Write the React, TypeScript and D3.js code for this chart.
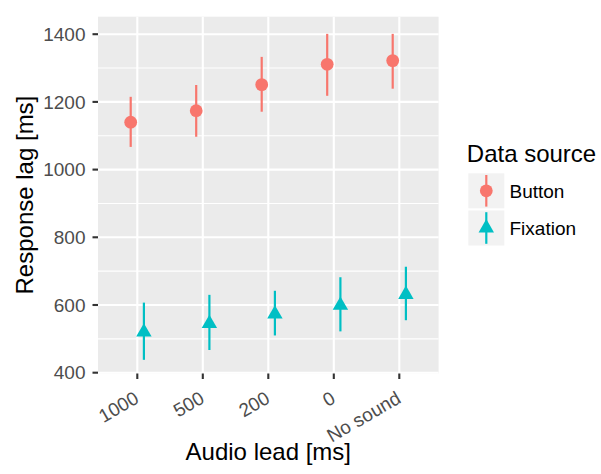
import React from "react";
import * as d3 from "d3";

const categories = ["1000", "500", "200", "0", "No sound"];
const sources = ["Button", "Fixation"];
const buttonMean = [1140, 1174, 1251, 1311, 1322];
const buttonLow = [1067, 1097, 1171, 1218, 1239];
const buttonHigh = [1215, 1250, 1333, 1401, 1401];
const fixationMean = [520, 545, 573, 599, 631];
const fixationLow = [438, 467, 510, 522, 555];
const fixationHigh = [607, 630, 642, 682, 713];
const yTicks = [400, 600, 800, 1000, 1200, 1400];
const yMinor = [500, 700, 900, 1100, 1300];
const colors = ["#F8766D", "#00BFC4"];

const W = 601, H = 474;
const P = { left: 98, right: 438.6, top: 16.7, bottom: 373.5 };
const FONT = "'Liberation Sans', Arial, Helvetica, sans-serif";

function triPath(cx: number, cy: number, r: number) {
  const s = r * Math.sin(Math.PI / 3);
  return `M${cx},${cy - r}L${cx + s},${cy + r / 2}L${cx - s},${cy + r / 2}Z`;
}

export default function App() {
  const x = d3.scalePoint<string>().domain(categories).range([P.left, P.right]).padding(0.6);
  const y = d3.scaleLinear().domain([397.6, 1451.7]).range([P.bottom, P.top]);
  const dodge = 6.6;

  const series = [
    { name: sources[0], mean: buttonMean, low: buttonLow, high: buttonHigh, color: colors[0], off: -dodge },
    { name: sources[1], mean: fixationMean, low: fixationLow, high: fixationHigh, color: colors[1], off: dodge },
  ];

  return (
    <svg width={W} height={H} style={{ position: "absolute", left: 0, top: 0 }} fontFamily={FONT}>
      <rect x={0} y={0} width={W} height={H} fill="#fff" />
      <rect x={P.left} y={P.top} width={P.right - P.left} height={P.bottom - P.top} fill="#EBEBEB" />
      {yMinor.map((v) => (
        <line key={"m" + v} x1={P.left} x2={P.right} y1={y(v)} y2={y(v)} stroke="#fff" strokeWidth={1.1} />
      ))}
      {yTicks.map((v) => (
        <line key={"g" + v} x1={P.left} x2={P.right} y1={y(v)} y2={y(v)} stroke="#fff" strokeWidth={2.1} />
      ))}
      {categories.map((c) => (
        <line key={"v" + c} x1={x(c)} x2={x(c)} y1={P.top} y2={P.bottom} stroke="#fff" strokeWidth={2.1} />
      ))}
      {series.map((s) =>
        categories.map((c, i) => (
          <line key={s.name + "e" + i} x1={x(c)! + s.off} x2={x(c)! + s.off} y1={y(s.low[i])} y2={y(s.high[i])} stroke={s.color} strokeWidth={2.2} />
        ))
      )}
      {categories.map((c, i) => (
        <circle key={"bp" + i} cx={x(c)! + series[0].off} cy={y(buttonMean[i])} r={6.4} fill={colors[0]} />
      ))}
      {categories.map((c, i) => (
        <path key={"fp" + i} d={triPath(x(c)! + series[1].off, y(fixationMean[i]), 8.9)} fill={colors[1]} />
      ))}
      {/* y axis */}
      {yTicks.map((v) => (
        <g key={"yt" + v}>
          <line x1={P.left - 5.5} x2={P.left} y1={y(v)} y2={y(v)} stroke="#333" strokeWidth={2.1} />
          <text x={85.5} y={y(v) + 6.8} textAnchor="end" fontSize={19} fill="#4D4D4D">{v}</text>
        </g>
      ))}
      {/* x axis */}
      {categories.map((c) => (
        <g key={"xt" + c}>
          <line x1={x(c)} x2={x(c)} y1={P.bottom} y2={P.bottom + 5.5} stroke="#333" strokeWidth={2.1} />
          <text transform={`translate(${x(c)! + 2.8},${402}) rotate(-30)`} textAnchor="end" fontSize={19} fill="#4D4D4D">{c}</text>
        </g>
      ))}
      <text x={(P.left + P.right) / 2} y={459.5} textAnchor="middle" fontSize={24} fill="#000">Audio lead [ms]</text>
      <text transform={`translate(32.5,${(P.top + P.bottom) / 2}) rotate(-90)`} textAnchor="middle" fontSize={24} fill="#000">Response lag [ms]</text>
      {/* legend */}
      <text x={466.8} y={161.8} fontSize={24} fill="#000">Data source</text>
      {series.map((s, i) => {
        const ky = 173.3 + i * 37.2;
        const cx = 486.3;
        const cy = ky + 17.5;
        return (
          <g key={"lg" + i}>
            <rect x={468.3} y={ky} width={36} height={35} fill="#F2F2F2" />
            <line x1={cx} x2={cx} y1={ky + 1.7} y2={ky + 33.3} stroke={s.color} strokeWidth={2.2} />
            {i === 0 ? (
              <circle cx={cx} cy={cy} r={6.4} fill={s.color} />
            ) : (
              <path d={triPath(cx, cy, 8.9)} fill={s.color} />
            )}
            <text x={509.5} y={cy + 6.8} fontSize={19} fill="#000">{s.name}</text>
          </g>
        );
      })}
    </svg>
  );
}
